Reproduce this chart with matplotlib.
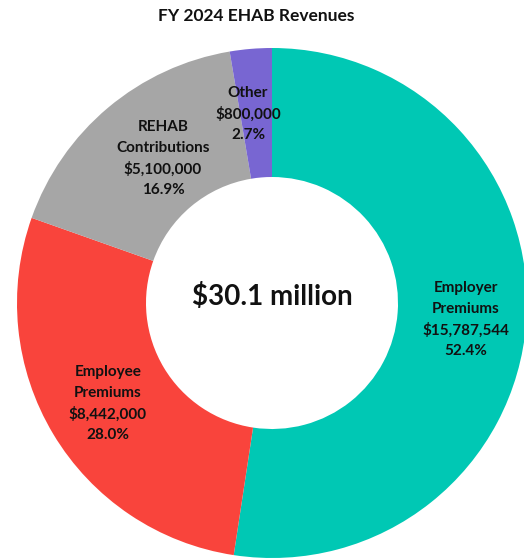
import matplotlib
matplotlib.use("Agg")
import matplotlib.pyplot as plt

categories = ["Employer\nPremiums", "Employee\nPremiums", "REHAB\nContributions", "Other"]
amounts = [15787544, 8442000, 5100000, 800000]
amount_labels = ["$15,787,544", "$8,442,000", "$5,100,000", "$800,000"]
pct_labels = ["52.4%", "28.0%", "16.9%", "2.7%"]
colors = ["#00C8B4", "#F9443C", "#A6A6A6", "#7866D2"]
title = "FY 2024 EHAB Revenues"
center_label = "$30.1 million"

W, H = 524, 559
fig = plt.figure(figsize=(W / 100, H / 100), dpi=100)
ax = fig.add_axes([0, 0, 1, 1])

cx, cy, R, r = 272, 303, 255, 126
ax.pie(amounts, colors=colors, startangle=90, counterclock=False,
       center=(cx, H - cy), radius=R,
       wedgeprops=dict(width=R - r, edgecolor="none"), frame=True)
ax.set_xlim(0, W)
ax.set_ylim(0, H)
ax.set_aspect("equal")
ax.axis("off")

font = "Lato"
def py(y):
    return H - y

label_pos = [(466, 288), (108, 372), (163, 127), (248, 93)]
for cat, amt, pct, (x, y) in zip(categories, amount_labels, pct_labels, label_pos):
    lines = cat.split("\n") + [amt, pct]
    for i, line in enumerate(lines):
        ax.text(x, py(y + i * 21), line, ha="center", va="center",
                fontsize=11, fontweight="bold", family=font, color="#111111")

ax.text(272, py(296), center_label, ha="center", va="center",
        fontsize=20, fontweight="bold", family=font, color="#111111")
ax.text(256, py(16), title, ha="center", va="center",
        fontsize=12.5, fontweight="bold", family=font, color="#111111")

fig.savefig("out.png", dpi=100)
